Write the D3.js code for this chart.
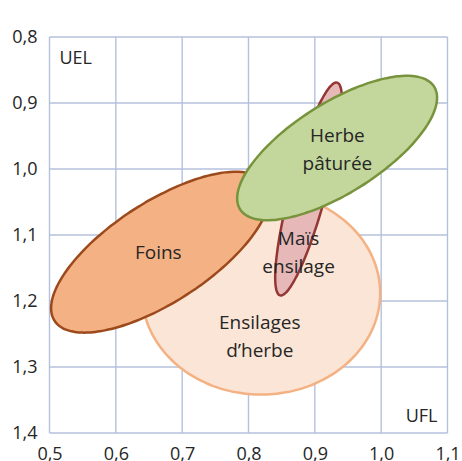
<!DOCTYPE html>
<html><head><meta charset="utf-8">
<script src="https://cdn.jsdelivr.net/npm/d3@7"></script>
<style>
html,body{margin:0;padding:0;background:#fff;}
svg{display:block;}
text{font-family:"Open Sans",sans-serif;fill:#262626;}
</style></head>
<body>
<svg id="chart" width="462" height="461"></svg>
<script>
// --- data ---
const xTicks = [0.5, 0.6, 0.7, 0.8, 0.9, 1.0, 1.1];
const yTicks = [0.8, 0.9, 1.0, 1.1, 1.2, 1.3, 1.4];
const groups = ["Ensilages d'herbe", "Foins", "Maïs ensilage", "Herbe pâturée"];
const labelLines = [["Ensilages", "d\u2019herbe"], ["Foins"], ["Maïs", "ensilage"], ["Herbe", "pâturée"]];
const centerUFL = [0.819, 0.667, 0.8906, 0.9336];
const centerUEL = [1.188, 1.126, 1.0303, 0.9682];
const spreadMajor = [0.1795, 0.19, 0.166, 0.173];
const spreadMinor = [0.153, 0.0755, 0.0272, 0.068];
const tiltDeg = [0, -33, -75, -32.3];
const labelUFL = [0.817, 0.664, 0.8755, 0.934];
const labelUEL = [1.254, 1.127, 1.127, 0.9706];
const fills = ["#fbe5d6", "#f4b183", "#e6b9b8", "#c3d69b"];
const strokes = ["#f4b183", "#9c4a1c", "#943634", "#77933c"];

// --- layout ---
const svg = d3.select("#chart");
const x = d3.scaleLinear().domain([0.5, 1.1]).range([49.5, 447.5]);
const y = d3.scaleLinear().domain([0.8, 1.4]).range([37, 433]);
const gridColor = "#b4c1dc";

const g = svg.append("g");
// grid
g.selectAll("line.vx").data(xTicks).join("line")
  .attr("x1", d => x(d)).attr("x2", d => x(d))
  .attr("y1", y(0.8)).attr("y2", y(1.4))
  .attr("stroke", gridColor).attr("stroke-width", 1.4);
g.selectAll("line.hy").data(yTicks).join("line")
  .attr("y1", d => y(d)).attr("y2", d => y(d))
  .attr("x1", x(0.5)).attr("x2", x(1.1))
  .attr("stroke", gridColor).attr("stroke-width", 1.4);

// axes labels via d3 axes (domain and ticks hidden)
const fmt = d => d3.format(".1f")(d).replace(".", ",");
const xAxis = svg.append("g").attr("transform", `translate(0,${y(1.4)})`)
  .call(d3.axisBottom(x).tickValues(xTicks).tickFormat(fmt).tickSize(0).tickPadding(14));
const yAxis = svg.append("g").attr("transform", `translate(${x(0.5)},0)`)
  .call(d3.axisLeft(y).tickValues(yTicks).tickFormat(fmt).tickSize(0).tickPadding(12));
[xAxis, yAxis].forEach(a => {
  a.select(".domain").remove();
  a.selectAll("text").attr("font-family", "Open Sans, sans-serif").attr("font-size", 18).attr("fill", "#262626");
});
xAxis.selectAll("text").attr("dy", "0.71em");

// ellipses
const kx = (x(1) - x(0.5)) / 0.5, ky = (y(1) - y(0.8)) / 0.2;
function ellipsePath(i) {
  const th = tiltDeg[i] * Math.PI / 180;
  const pts = d3.range(0, 361, 3).map(deg => {
    const t = deg * Math.PI / 180;
    const du = spreadMajor[i] * Math.cos(t) * Math.cos(th) - spreadMinor[i] * Math.sin(t) * Math.sin(th);
    const dv = spreadMajor[i] * Math.cos(t) * Math.sin(th) + spreadMinor[i] * Math.sin(t) * Math.cos(th);
    return [x(centerUFL[i] + du), y(centerUEL[i] + dv * kx / ky)];
  });
  return d3.line().curve(d3.curveCardinalClosed)(pts.slice(0, -1));
}
const order = [0, 1, 2, 3];
svg.selectAll("path.ell").data(order).join("path")
  .attr("class", "ell")
  .attr("d", i => ellipsePath(i))
  .attr("fill", i => fills[i]).attr("stroke", i => strokes[i]).attr("stroke-width", 2.5);

// labels
order.forEach(i => {
  const lines = labelLines[i];
  const t = svg.append("text").attr("text-anchor", "middle").attr("font-size", 19)
    .attr("x", x(labelUFL[i])).attr("y", y(labelUEL[i]));
  lines.forEach((l, k) => {
    t.append("tspan").attr("x", x(labelUFL[i])).attr("dy", k === 0 ? (-(lines.length - 1) * 14 + 6.5) : 27.5).text(l);
  });
});

// axis titles
svg.append("text").attr("x", x(0.5) + 10).attr("y", y(0.8) + 27).attr("font-size", 18).text("UEL");
svg.append("text").attr("x", x(1.1) - 10).attr("y", y(1.4) - 11).attr("font-size", 18).attr("text-anchor", "end").text("UFL");
</script>
</body></html>
